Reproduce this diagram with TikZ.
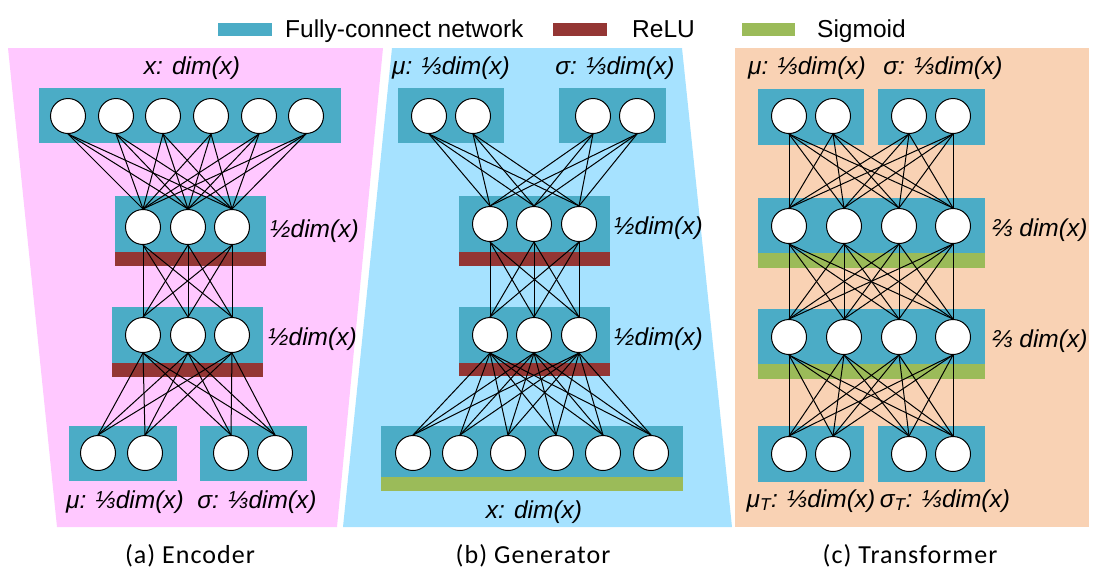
\documentclass[tikz,border=0pt]{standalone}
\usepackage{fontspec}
\setmainfont{Liberation Sans}
\newfontfamily\capfont{Carlito}[LetterSpace=4]
\definecolor{fc}{HTML}{4BACC6}
\definecolor{relu}{HTML}{943634}
\definecolor{sig}{HTML}{9BBB59}
\definecolor{pinkbg}{HTML}{FFC8FF}
\definecolor{bluebg}{HTML}{A6E2FF}
\definecolor{peachbg}{HTML}{F9D2B4}
\tikzset{
  neuron/.style={circle,draw=black,fill=white,line width=1pt,minimum size=35pt,inner sep=0pt},
  conn/.style={draw=black,line width=1pt},
  lbl/.style={font=\fontsize{24.5}{24.5}\selectfont\itshape,inner sep=0pt,anchor=base},
  lblw/.style={lbl,anchor=base west},
  captxt/.style={font=\capfont\fontsize{26}{26}\selectfont,inner sep=0pt,anchor=base},
  leg/.style={font=\fontsize{24.5}{24.5}\selectfont,anchor=base west,inner sep=0pt}
}
\begin{document}
\begin{tikzpicture}[x=1pt,y=-1pt]
\useasboundingbox (0,0) rectangle (1095,582);
% panels
\fill[pinkbg] (8,48) -- (383,48) -- (337,527) -- (57,527) -- cycle;
\fill[bluebg] (392,48) -- (682,48) -- (732,527) -- (343,527) -- cycle;
\fill[peachbg] (735,48) rectangle (1089,527);
% legend
\fill[fc] (218,23) rectangle (272,36);
\node[leg] (lfc) at (285,37) {Fully-connect network};
\fill[relu] (553,23) rectangle (607,36);
\node[leg] (lrelu) at (632,37) {ReLU};
\fill[sig] (742,23) rectangle (795,36);
\node[leg] (lsig) at (817,37) {Sigmoid};
% ---------- Encoder boxes
\fill[fc] (39,88) rectangle (341,143);
\fill[fc] (115,196) rectangle (266,252);
\fill[relu] (115,252) rectangle (266,266);
\fill[fc] (112,307) rectangle (263,363);
\fill[relu] (112,363) rectangle (263,377);
\fill[fc] (69,426) rectangle (177,481);
\fill[fc] (200,426) rectangle (307,481);
% ---------- Generator boxes
\fill[fc] (398,88) rectangle (504,143);
\fill[fc] (559,88) rectangle (666,143);
\fill[fc] (459,196) rectangle (610,252);
\fill[relu] (459,252) rectangle (610,266);
\fill[fc] (459,307) rectangle (610,363);
\fill[relu] (459,363) rectangle (610,376);
\fill[fc] (381,426) rectangle (683,477);
\fill[sig] (381,477) rectangle (683,491);
% ---------- Transformer boxes
\fill[fc] (758,89) rectangle (864,145);
\fill[fc] (878,89) rectangle (985,145);
\fill[fc] (758,198) rectangle (985,253);
\fill[sig] (758,253) rectangle (985,268);
\fill[fc] (758,309) rectangle (985,364);
\fill[sig] (758,364) rectangle (985,379);
\fill[fc] (758,426) rectangle (864,482);
\fill[fc] (878,426) rectangle (985,482);
% ---------- neurons: encoder
\foreach \x [count=\i] in {68,116,163,211,259,306} \node[neuron] (ea\i) at (\x,116) {};
\foreach \x [count=\i] in {143,188,232} \node[neuron] (eb\i) at (\x,227) {};
\foreach \x [count=\i] in {143,188,232} \node[neuron] (ec\i) at (\x,335) {};
\foreach \x [count=\i] in {98,145,231,275} \node[neuron] (ed\i) at (\x,453) {};
% generator
\foreach \x [count=\i] in {429,473,593,637} \node[neuron] (ga\i) at (\x,116) {};
\foreach \x [count=\i] in {490,534,579} \node[neuron] (gb\i) at (\x,224) {};
\foreach \x [count=\i] in {490,534,579} \node[neuron] (gc\i) at (\x,335) {};
\foreach \x [count=\i] in {413,460,508,556,603,651} \node[neuron] (gd\i) at (\x,453) {};
% transformer
\foreach \x [count=\i] in {789,833,909,953} \node[neuron] (ta\i) at (\x,116) {};
\foreach \x [count=\i] in {789,844,899,953} \node[neuron] (tb\i) at (\x,226) {};
\foreach \x [count=\i] in {789,844,899,953} \node[neuron] (tc\i) at (\x,337) {};
\foreach \x [count=\i] in {789,833,909,953} \node[neuron] (td\i) at (\x,454) {};
% ---------- connections
\foreach \i in {1,...,6} \foreach \j in {1,2,3} \draw[conn] (ea\i.south) -- (eb\j.north);
\foreach \i in {1,2,3} \foreach \j in {1,2,3} \draw[conn] (eb\i.south) -- (ec\j.north);
\foreach \i in {1,2,3} \foreach \j in {1,...,4} \draw[conn] (ec\i.south) -- (ed\j.north);
\foreach \i in {1,...,4} \foreach \j in {1,2,3} \draw[conn] (ga\i.south) -- (gb\j.north);
\foreach \i in {1,2,3} \foreach \j in {1,2,3} \draw[conn] (gb\i.south) -- (gc\j.north);
\foreach \i in {1,2,3} \foreach \j in {1,...,6} \draw[conn] (gc\i.south) -- (gd\j.north);
\foreach \i in {1,...,4} \foreach \j in {1,...,4} \draw[conn] (ta\i.south) -- (tb\j.north);
\foreach \i in {1,...,4} \foreach \j in {1,...,4} \draw[conn] (tb\i.south) -- (tc\j.north);
\foreach \i in {1,...,4} \foreach \j in {1,...,4} \draw[conn] (tc\i.south) -- (td\j.north);
% ---------- labels encoder
\node[lbl] (le1) at (192,74) {x: dim(x)};
\node[lblw] (le2) at (270,237) {½dim(x)};
\node[lblw] (le3) at (268,345) {½dim(x)};
\node[lbl] (le4) at (125,508) {μ: ⅓dim(x)};
\node[lbl] (le5) at (257,508) {σ: ⅓dim(x)};
% labels generator
\node[lbl] (lg1) at (451,74) {μ: ⅓dim(x)};
\node[lbl] (lg2) at (615,74) {σ: ⅓dim(x)};
\node[lblw] (lg3) at (614,234) {½dim(x)};
\node[lblw] (lg4) at (614,345) {½dim(x)};
\node[lbl] (lg5) at (534,518) {x: dim(x)};
% labels transformer
\node[lbl] (lt1) at (807,74) {μ: ⅓dim(x)};
\node[lbl] (lt2) at (943,74) {σ: ⅓dim(x)};
\node[lblw] (lt3) at (992,236) {⅔ dim(x)};
\node[lblw] (lt4) at (992,347) {⅔ dim(x)};
\node[lbl] (lt5) at (811,507) {μ\textsubscript{T}: ⅓dim(x)};
\node[lbl] (lt6) at (945,507) {σ\textsubscript{T}: ⅓dim(x)};
% captions
\node[captxt] (ca) at (190,563) {(a) Encoder};
\node[captxt] (cb) at (533,563) {(b) Generator};
\node[captxt] (cc) at (910,563) {(c) Transformer};
\end{tikzpicture}
\end{document}
